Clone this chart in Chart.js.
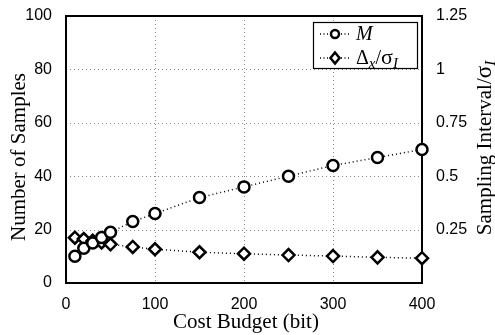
<!DOCTYPE html>
<html><head><meta charset="utf-8">
<script src="https://cdn.jsdelivr.net/npm/chart.js@4/dist/chart.umd.min.js"></script>
<style>html,body{margin:0;padding:0;background:#fff}#wrap{width:495px;height:335px}</style>
</head><body><div id="wrap"><canvas id="c" width="495" height="335"></canvas></div>
<script>
const costs = [10, 20, 30, 40, 50, 75, 100, 150, 200, 250, 300, 350, 400];
const samples = [10, 13, 15, 17, 19, 23, 26, 32, 36, 40, 44, 47, 50];
const interval = [0.212, 0.206, 0.198, 0.19, 0.181, 0.169, 0.158, 0.144, 0.137, 0.131, 0.126, 0.12, 0.116];
const xTicks = [0, 100, 200, 300, 400];
const leftTicks = [0, 20, 40, 60, 80, 100];
const rightTicks = [0.25, 0.5, 0.75, 1, 1.25];

const SANS = '"Liberation Sans", Arial, sans-serif';
const SERIF = '"Liberation Serif", "Times New Roman", serif';

function drawPieces(ctx, pieces, x, y) {
  let cx = x;
  for (const p of pieces) {
    ctx.font = p.font;
    ctx.fillText(p.t, cx, y + (p.dy || 0));
    cx += ctx.measureText(p.t).width;
  }
  return cx - x;
}
function piecesWidth(ctx, pieces) {
  let w = 0;
  for (const p of pieces) { ctx.font = p.font; w += ctx.measureText(p.t).width; }
  return w;
}

const deco = {
  id: 'deco',
  beforeDatasetsDraw(chart) {
    const ctx = chart.ctx, a = chart.chartArea;
    const xs = chart.scales.x, ys = chart.scales.y;
    ctx.save();
    ctx.strokeStyle = '#888';
    ctx.lineWidth = 1;
    ctx.setLineDash([1, 3]);
    for (const v of xTicks) {
      if (v === xs.min || v === xs.max) continue;
      const px = Math.round(xs.getPixelForValue(v)) + 0.5;
      ctx.beginPath(); ctx.moveTo(px, a.top); ctx.lineTo(px, a.bottom); ctx.stroke();
    }
    for (const v of leftTicks) {
      if (v === ys.min || v === ys.max) continue;
      const py = Math.round(ys.getPixelForValue(v)) + 0.5;
      ctx.beginPath(); ctx.moveTo(a.left, py); ctx.lineTo(a.right, py); ctx.stroke();
    }
    ctx.setLineDash([]);
    ctx.strokeStyle = '#000';
    ctx.lineWidth = 2;
    ctx.strokeRect(a.left, a.top, a.right - a.left, a.bottom - a.top);
    ctx.restore();
  },
  afterDraw(chart) {
    const ctx = chart.ctx, a = chart.chartArea;
    ctx.save();
    ctx.fillStyle = '#000';
    ctx.textBaseline = 'alphabetic';
    ctx.font = '21px ' + SERIF;
    ctx.textAlign = 'center';
    ctx.fillText('Cost Budget (bit)', (a.left + a.right) / 2 + 2, 328);
    ctx.save();
    ctx.translate(25, 157);
    ctx.rotate(-Math.PI / 2);
    ctx.fillText('Number of Samples', 0, 0);
    ctx.restore();
    ctx.textAlign = 'left';
    const rp = [
      {t: 'Sampling Interval/', font: '21px ' + SERIF},
      {t: 'σ', font: '23px ' + SERIF},
      {t: 'I', font: 'italic 15px ' + SERIF, dy: 4}
    ];
    ctx.save();
    ctx.translate(491, 148);
    ctx.rotate(-Math.PI / 2);
    const rw = piecesWidth(ctx, rp);
    drawPieces(ctx, rp, -rw / 2, 0);
    ctx.restore();
    // legend
    const lx = 313, ly = 22, lw = 105, lh = 47;
    ctx.fillStyle = '#fff';
    ctx.fillRect(lx, ly, lw, lh);
    ctx.strokeStyle = '#000';
    ctx.lineWidth = 1.2;
    ctx.strokeRect(lx + 0.5, ly + 0.5, lw - 1, lh - 1);
    const rows = [ly + 12, ly + 36];
    ctx.lineWidth = 1.5;
    ctx.setLineDash([1, 2.5]);
    for (const yy of rows) {
      ctx.beginPath(); ctx.moveTo(320, yy); ctx.lineTo(350, yy); ctx.stroke();
    }
    ctx.setLineDash([]);
    ctx.lineWidth = 2.5;
    ctx.fillStyle = '#fff';
    ctx.beginPath(); ctx.arc(335, rows[0], 4, 0, Math.PI * 2);
    ctx.fill(); ctx.stroke();
    ctx.beginPath();
    ctx.moveTo(335, rows[1] - 5.5); ctx.lineTo(339.5, rows[1]);
    ctx.lineTo(335, rows[1] + 5.5); ctx.lineTo(330.5, rows[1]); ctx.closePath();
    ctx.fill(); ctx.stroke();
    ctx.fillStyle = '#000';
    ctx.font = 'italic 20px ' + SERIF;
    ctx.fillText('M', 356, rows[0] + 6);
    drawPieces(ctx, [
      {t: 'Δ', font: '20px ' + SERIF},
      {t: 'x', font: 'italic 15px ' + SERIF, dy: 4},
      {t: '/', font: '20px ' + SERIF},
      {t: 'σ', font: '22px ' + SERIF},
      {t: 'I', font: 'italic 15px ' + SERIF, dy: 4}
    ], 356, rows[1] + 6);
    ctx.restore();
  }
};

new Chart(document.getElementById('c'), {
  type: 'line',
  data: {
    datasets: [
      {
        label: 'M', yAxisID: 'y',
        data: costs.map((c, i) => ({x: c, y: samples[i]})),
        borderColor: '#000', borderWidth: 1.5, borderDash: [1, 3],
        pointStyle: 'circle', pointRadius: 5.5, pointBorderWidth: 2.5,
        pointBackgroundColor: '#fff', pointBorderColor: '#000',
        fill: false, tension: 0, clip: false
      },
      {
        label: 'Δx/σI', yAxisID: 'y2',
        data: costs.map((c, i) => ({x: c, y: interval[i]})),
        borderColor: '#000', borderWidth: 1.5, borderDash: [1, 3],
        pointStyle: 'rectRot', pointRadius: 6, pointBorderWidth: 2.5,
        pointBackgroundColor: '#fff', pointBorderColor: '#000',
        fill: false, tension: 0, clip: false
      }
    ]
  },
  options: {
    responsive: false, animation: false,
    devicePixelRatio: 1,
    layout: {padding: {top: 16, left: 0, right: 0, bottom: 0}},
    plugins: {legend: {display: false}, tooltip: {enabled: false}},
    scales: {
      x: {
        type: 'linear', min: 0, max: 400,
        afterBuildTicks: s => { s.ticks = xTicks.map(v => ({value: v})); },
        afterFit: s => { s.height = 52; },
        grid: {display: false},
        border: {display: false},
        ticks: {color: '#000', font: {family: SANS, size: 16}, padding: 4, maxRotation: 0}
      },
      y: {
        position: 'left', min: 0, max: 100,
        afterBuildTicks: s => { s.ticks = leftTicks.map(v => ({value: v})); },
        afterFit: s => { s.width = 66; },
        grid: {display: false},
        border: {display: false},
        ticks: {color: '#000', font: {family: SANS, size: 16}, padding: 6}
      },
      y2: {
        position: 'right', min: 0, max: 1.25,
        afterBuildTicks: s => { s.ticks = rightTicks.map(v => ({value: v})); },
        afterFit: s => { s.width = 73; },
        grid: {display: false},
        border: {display: false},
        ticks: {color: '#000', font: {family: SANS, size: 16}, padding: 6,
          callback: v => String(v)}
      }
    }
  },
  plugins: [deco]
});
</script>
</body></html>
